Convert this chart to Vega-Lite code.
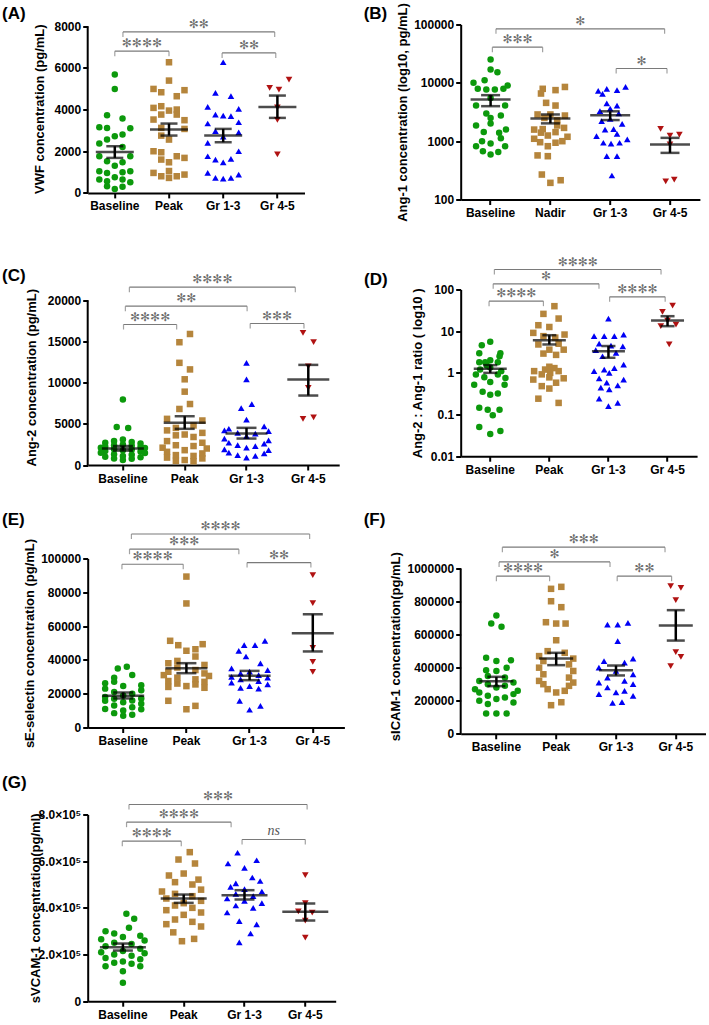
{
"$schema": "https://vega.github.io/schema/vega-lite/v6.json",
"padding": {"left": 1.7, "top": 2.5, "right": 0, "bottom": 0},
"config": {
 "view": {"stroke": null},
 "font": "Liberation Sans",
 "axis": {"domainColor": "black", "domainWidth": 2, "tickColor": "black", "tickWidth": 2, "tickSize": 5, "labelColor": "black", "labelFont": "Liberation Sans", "labelFontSize": 12, "labelFontWeight": "bold", "titleFont": "Liberation Sans", "titleFontSize": 13, "titleFontWeight": "bold", "titleColor": "black", "grid": false, "labelPadding": 2, "labelFlush": false, "labelOverlap": false},
 "axisX": {"labelAngle": 0, "labelPadding": 3},
 "title": {"anchor": "start", "frame": "group", "fontSize": 17, "fontWeight": "bold", "color": "black", "font": "Liberation Sans", "offset": 0}
},
"datasets": {
 "pts": [
{"p":"A","g":"Baseline","v":5680,"s":0},{"p":"A","g":"Baseline","v":4990,"s":0},{"p":"A","g":"Baseline","v":3730,"s":-1},{"p":"A","g":"Baseline","v":3570,"s":1},{"p":"A","g":"Baseline","v":3150,"s":-2},{"p":"A","g":"Baseline","v":3120,"s":-1},{"p":"A","g":"Baseline","v":3100,"s":2},{"p":"A","g":"Baseline","v":2800,"s":1},{"p":"A","g":"Baseline","v":2720,"s":0},{"p":"A","g":"Baseline","v":2560,"s":-1},{"p":"A","g":"Baseline","v":2370,"s":-2},{"p":"A","g":"Baseline","v":2200,"s":1},{"p":"A","g":"Baseline","v":1760,"s":-2},{"p":"A","g":"Baseline","v":1760,"s":2},{"p":"A","g":"Baseline","v":1520,"s":-1},{"p":"A","g":"Baseline","v":1470,"s":1},{"p":"A","g":"Baseline","v":1300,"s":0},{"p":"A","g":"Baseline","v":1040,"s":-2},{"p":"A","g":"Baseline","v":960,"s":-1},{"p":"A","g":"Baseline","v":990,"s":1},{"p":"A","g":"Baseline","v":1040,"s":2},{"p":"A","g":"Baseline","v":640,"s":-2},{"p":"A","g":"Baseline","v":560,"s":-1},{"p":"A","g":"Baseline","v":640,"s":1},{"p":"A","g":"Baseline","v":510,"s":2},{"p":"A","g":"Baseline","v":320,"s":-1},{"p":"A","g":"Baseline","v":190,"s":0},{"p":"A","g":"Baseline","v":300,"s":1},{"p":"A","g":"Baseline","v":750,"s":0},
{"p":"A","g":"Peak","v":6270,"s":0},{"p":"A","g":"Peak","v":5390,"s":0},{"p":"A","g":"Peak","v":4990,"s":-2},{"p":"A","g":"Peak","v":4830,"s":-1},{"p":"A","g":"Peak","v":4930,"s":2},{"p":"A","g":"Peak","v":4640,"s":1},{"p":"A","g":"Peak","v":4160,"s":-1},{"p":"A","g":"Peak","v":4080,"s":-2},{"p":"A","g":"Peak","v":4000,"s":1},{"p":"A","g":"Peak","v":3950,"s":0},{"p":"A","g":"Peak","v":3520,"s":-2},{"p":"A","g":"Peak","v":3490,"s":2},{"p":"A","g":"Peak","v":3760,"s":-1},{"p":"A","g":"Peak","v":3760,"s":1},{"p":"A","g":"Peak","v":3120,"s":-1},{"p":"A","g":"Peak","v":3070,"s":2},{"p":"A","g":"Peak","v":2560,"s":0},{"p":"A","g":"Peak","v":2750,"s":-1},{"p":"A","g":"Peak","v":2000,"s":-2},{"p":"A","g":"Peak","v":1950,"s":-1},{"p":"A","g":"Peak","v":1760,"s":1},{"p":"A","g":"Peak","v":1680,"s":2},{"p":"A","g":"Peak","v":1600,"s":-1},{"p":"A","g":"Peak","v":1470,"s":0},{"p":"A","g":"Peak","v":960,"s":-2},{"p":"A","g":"Peak","v":800,"s":-1},{"p":"A","g":"Peak","v":800,"s":1},{"p":"A","g":"Peak","v":880,"s":2},{"p":"A","g":"Peak","v":720,"s":0},{"p":"A","g":"Peak","v":1050,"s":0},
{"p":"A","g":"Gr 1-3","v":6270,"s":0},{"p":"A","g":"Gr 1-3","v":4800,"s":-1},{"p":"A","g":"Gr 1-3","v":4640,"s":1},{"p":"A","g":"Gr 1-3","v":4130,"s":-2},{"p":"A","g":"Gr 1-3","v":4030,"s":2},{"p":"A","g":"Gr 1-3","v":3760,"s":-1},{"p":"A","g":"Gr 1-3","v":3710,"s":0},{"p":"A","g":"Gr 1-3","v":3680,"s":1},{"p":"A","g":"Gr 1-3","v":3330,"s":-2},{"p":"A","g":"Gr 1-3","v":3390,"s":2},{"p":"A","g":"Gr 1-3","v":2960,"s":-1},{"p":"A","g":"Gr 1-3","v":2910,"s":2},{"p":"A","g":"Gr 1-3","v":2400,"s":-2},{"p":"A","g":"Gr 1-3","v":2000,"s":2},{"p":"A","g":"Gr 1-3","v":1760,"s":-2},{"p":"A","g":"Gr 1-3","v":1600,"s":-1},{"p":"A","g":"Gr 1-3","v":1630,"s":1},{"p":"A","g":"Gr 1-3","v":1470,"s":0},{"p":"A","g":"Gr 1-3","v":960,"s":-2},{"p":"A","g":"Gr 1-3","v":720,"s":-1},{"p":"A","g":"Gr 1-3","v":690,"s":0},{"p":"A","g":"Gr 1-3","v":720,"s":1},{"p":"A","g":"Gr 1-3","v":880,"s":2},{"p":"A","g":"Gr 1-3","v":2700,"s":0},
{"p":"A","g":"Gr 4-5","v":5440,"s":1.5},{"p":"A","g":"Gr 4-5","v":5040,"s":-1},{"p":"A","g":"Gr 4-5","v":4960,"s":0.2},{"p":"A","g":"Gr 4-5","v":4100,"s":0},{"p":"A","g":"Gr 4-5","v":3500,"s":0},{"p":"A","g":"Gr 4-5","v":1850,"s":0},
{"p":"B","g":"Baseline","v":25100,"s":0},{"p":"B","g":"Baseline","v":16900,"s":0},{"p":"B","g":"Baseline","v":15200,"s":0.8},{"p":"B","g":"Baseline","v":10000,"s":-2},{"p":"B","g":"Baseline","v":11100,"s":-0.7},{"p":"B","g":"Baseline","v":9000,"s":2},{"p":"B","g":"Baseline","v":7900,"s":-1.5},{"p":"B","g":"Baseline","v":7700,"s":-0.5},{"p":"B","g":"Baseline","v":7700,"s":0.5},{"p":"B","g":"Baseline","v":7900,"s":1.5},{"p":"B","g":"Baseline","v":4080,"s":-1.7},{"p":"B","g":"Baseline","v":4080,"s":1.7},{"p":"B","g":"Baseline","v":5500,"s":0},{"p":"B","g":"Baseline","v":2980,"s":-0.5},{"p":"B","g":"Baseline","v":2750,"s":1.2},{"p":"B","g":"Baseline","v":2500,"s":0},{"p":"B","g":"Baseline","v":1860,"s":-1.7},{"p":"B","g":"Baseline","v":2010,"s":0},{"p":"B","g":"Baseline","v":1580,"s":1.8},{"p":"B","g":"Baseline","v":1430,"s":-0.8},{"p":"B","g":"Baseline","v":1390,"s":1},{"p":"B","g":"Baseline","v":1125,"s":1.2},{"p":"B","g":"Baseline","v":1000,"s":-1},{"p":"B","g":"Baseline","v":820,"s":-1.7},{"p":"B","g":"Baseline","v":910,"s":0},{"p":"B","g":"Baseline","v":820,"s":1.7},{"p":"B","g":"Baseline","v":670,"s":-0.9},{"p":"B","g":"Baseline","v":590,"s":0},{"p":"B","g":"Baseline","v":650,"s":0.9},
{"p":"B","g":"Nadir","v":7900,"s":-0.9},{"p":"B","g":"Nadir","v":7500,"s":0.6},{"p":"B","g":"Nadir","v":8500,"s":1.7},{"p":"B","g":"Nadir","v":6560,"s":-1.1},{"p":"B","g":"Nadir","v":4540,"s":-0.5},{"p":"B","g":"Nadir","v":4080,"s":0.6},{"p":"B","g":"Nadir","v":2870,"s":-1.5},{"p":"B","g":"Nadir","v":2870,"s":0},{"p":"B","g":"Nadir","v":2750,"s":1.7},{"p":"B","g":"Nadir","v":2500,"s":-0.7},{"p":"B","g":"Nadir","v":2300,"s":0.8},{"p":"B","g":"Nadir","v":1580,"s":-1.9},{"p":"B","g":"Nadir","v":1610,"s":-0.9},{"p":"B","g":"Nadir","v":1860,"s":0.8},{"p":"B","g":"Nadir","v":1690,"s":1.6},{"p":"B","g":"Nadir","v":1250,"s":-0.3},{"p":"B","g":"Nadir","v":1100,"s":-1.9},{"p":"B","g":"Nadir","v":1430,"s":0.6},{"p":"B","g":"Nadir","v":1190,"s":2},{"p":"B","g":"Nadir","v":960,"s":-1.2},{"p":"B","g":"Nadir","v":820,"s":-0.3},{"p":"B","g":"Nadir","v":940,"s":0.6},{"p":"B","g":"Nadir","v":1000,"s":1.4},{"p":"B","g":"Nadir","v":570,"s":-1.5},{"p":"B","g":"Nadir","v":553,"s":-0.3},{"p":"B","g":"Nadir","v":268,"s":-1},{"p":"B","g":"Nadir","v":193,"s":0},{"p":"B","g":"Nadir","v":214,"s":1.2},{"p":"B","g":"Nadir","v":1400,"s":-1.1},
{"p":"B","g":"Gr 1-3","v":7300,"s":-1.4},{"p":"B","g":"Gr 1-3","v":7900,"s":-0.4},{"p":"B","g":"Gr 1-3","v":7500,"s":0.8},{"p":"B","g":"Gr 1-3","v":8530,"s":1.8},{"p":"B","g":"Gr 1-3","v":6480,"s":-0.9},{"p":"B","g":"Gr 1-3","v":4430,"s":-0.4},{"p":"B","g":"Gr 1-3","v":4080,"s":0.8},{"p":"B","g":"Gr 1-3","v":3270,"s":-1.2},{"p":"B","g":"Gr 1-3","v":2980,"s":1},{"p":"B","g":"Gr 1-3","v":2400,"s":0},{"p":"B","g":"Gr 1-3","v":2200,"s":-1},{"p":"B","g":"Gr 1-3","v":1980,"s":1.4},{"p":"B","g":"Gr 1-3","v":1610,"s":0.4},{"p":"B","g":"Gr 1-3","v":1580,"s":-0.6},{"p":"B","g":"Gr 1-3","v":1330,"s":0.8},{"p":"B","g":"Gr 1-3","v":1220,"s":-1.6},{"p":"B","g":"Gr 1-3","v":1075,"s":2},{"p":"B","g":"Gr 1-3","v":940,"s":-0.8},{"p":"B","g":"Gr 1-3","v":910,"s":0.1},{"p":"B","g":"Gr 1-3","v":940,"s":1.1},{"p":"B","g":"Gr 1-3","v":553,"s":-0.4},{"p":"B","g":"Gr 1-3","v":553,"s":0.8},{"p":"B","g":"Gr 1-3","v":258,"s":0.2},{"p":"B","g":"Gr 1-3","v":3600,"s":0},
{"p":"B","g":"Gr 4-5","v":1630,"s":-1.1},{"p":"B","g":"Gr 4-5","v":1250,"s":0},{"p":"B","g":"Gr 4-5","v":1300,"s":1.1},{"p":"B","g":"Gr 4-5","v":880,"s":0},{"p":"B","g":"Gr 4-5","v":204,"s":-0.5},{"p":"B","g":"Gr 4-5","v":220,"s":0.5},
{"p":"C","g":"Baseline","v":7950,"s":0},{"p":"C","g":"Baseline","v":4600,"s":-0.7},{"p":"C","g":"Baseline","v":4500,"s":0.6},{"p":"C","g":"Baseline","v":3100,"s":0},{"p":"C","g":"Baseline","v":2900,"s":-1},{"p":"C","g":"Baseline","v":2800,"s":1},{"p":"C","g":"Baseline","v":2700,"s":-2},{"p":"C","g":"Baseline","v":2600,"s":2},{"p":"C","g":"Baseline","v":2500,"s":0},{"p":"C","g":"Baseline","v":2400,"s":-1},{"p":"C","g":"Baseline","v":2350,"s":1},{"p":"C","g":"Baseline","v":2250,"s":-2},{"p":"C","g":"Baseline","v":2200,"s":2},{"p":"C","g":"Baseline","v":2100,"s":-2.5},{"p":"C","g":"Baseline","v":2050,"s":2.5},{"p":"C","g":"Baseline","v":1900,"s":-1},{"p":"C","g":"Baseline","v":1850,"s":1},{"p":"C","g":"Baseline","v":1800,"s":0},{"p":"C","g":"Baseline","v":1700,"s":-2},{"p":"C","g":"Baseline","v":1650,"s":2},{"p":"C","g":"Baseline","v":1500,"s":-2.5},{"p":"C","g":"Baseline","v":1450,"s":2.5},{"p":"C","g":"Baseline","v":1300,"s":-1},{"p":"C","g":"Baseline","v":1250,"s":1},{"p":"C","g":"Baseline","v":1100,"s":0},{"p":"C","g":"Baseline","v":1000,"s":-2},{"p":"C","g":"Baseline","v":950,"s":2},{"p":"C","g":"Baseline","v":800,"s":-1},{"p":"C","g":"Baseline","v":750,"s":1},{"p":"C","g":"Baseline","v":600,"s":0},
{"p":"C","g":"Peak","v":15900,"s":0.6},{"p":"C","g":"Peak","v":14900,"s":-0.6},{"p":"C","g":"Peak","v":12400,"s":-0.6},{"p":"C","g":"Peak","v":11600,"s":0.6},{"p":"C","g":"Peak","v":10400,"s":0},{"p":"C","g":"Peak","v":8900,"s":0},{"p":"C","g":"Peak","v":7400,"s":0.6},{"p":"C","g":"Peak","v":6800,"s":-0.6},{"p":"C","g":"Peak","v":5600,"s":-2},{"p":"C","g":"Peak","v":5400,"s":2},{"p":"C","g":"Peak","v":4800,"s":1},{"p":"C","g":"Peak","v":4500,"s":-1},{"p":"C","g":"Peak","v":4200,"s":-2},{"p":"C","g":"Peak","v":3900,"s":2},{"p":"C","g":"Peak","v":3700,"s":0},{"p":"C","g":"Peak","v":3600,"s":-1},{"p":"C","g":"Peak","v":3400,"s":1},{"p":"C","g":"Peak","v":2900,"s":-2},{"p":"C","g":"Peak","v":2700,"s":2},{"p":"C","g":"Peak","v":2400,"s":-1},{"p":"C","g":"Peak","v":2300,"s":1},{"p":"C","g":"Peak","v":2100,"s":-2.5},{"p":"C","g":"Peak","v":2000,"s":2.5},{"p":"C","g":"Peak","v":1800,"s":0},{"p":"C","g":"Peak","v":1600,"s":-2},{"p":"C","g":"Peak","v":1400,"s":2},{"p":"C","g":"Peak","v":1200,"s":-1},{"p":"C","g":"Peak","v":1100,"s":1},{"p":"C","g":"Peak","v":900,"s":-2},{"p":"C","g":"Peak","v":800,"s":2},{"p":"C","g":"Peak","v":600,"s":0},{"p":"C","g":"Peak","v":500,"s":-1},{"p":"C","g":"Peak","v":450,"s":1},
{"p":"C","g":"Gr 1-3","v":12400,"s":0},{"p":"C","g":"Gr 1-3","v":10400,"s":0},{"p":"C","g":"Gr 1-3","v":7400,"s":0.6},{"p":"C","g":"Gr 1-3","v":6900,"s":-0.6},{"p":"C","g":"Gr 1-3","v":5500,"s":0},{"p":"C","g":"Gr 1-3","v":4700,"s":2},{"p":"C","g":"Gr 1-3","v":4400,"s":-2},{"p":"C","g":"Gr 1-3","v":4200,"s":-2.5},{"p":"C","g":"Gr 1-3","v":4100,"s":2.5},{"p":"C","g":"Gr 1-3","v":3900,"s":-1},{"p":"C","g":"Gr 1-3","v":3800,"s":1},{"p":"C","g":"Gr 1-3","v":3500,"s":0},{"p":"C","g":"Gr 1-3","v":3200,"s":-2.5},{"p":"C","g":"Gr 1-3","v":3000,"s":2.5},{"p":"C","g":"Gr 1-3","v":2700,"s":-2},{"p":"C","g":"Gr 1-3","v":2600,"s":2},{"p":"C","g":"Gr 1-3","v":2400,"s":-1},{"p":"C","g":"Gr 1-3","v":2300,"s":1},{"p":"C","g":"Gr 1-3","v":2100,"s":0},{"p":"C","g":"Gr 1-3","v":1900,"s":-2.5},{"p":"C","g":"Gr 1-3","v":1800,"s":2.5},{"p":"C","g":"Gr 1-3","v":1500,"s":-2},{"p":"C","g":"Gr 1-3","v":1400,"s":2},{"p":"C","g":"Gr 1-3","v":1200,"s":-1},{"p":"C","g":"Gr 1-3","v":1100,"s":1},{"p":"C","g":"Gr 1-3","v":900,"s":0},
{"p":"C","g":"Gr 4-5","v":16040,"s":-0.6},{"p":"C","g":"Gr 4-5","v":14900,"s":0.6},{"p":"C","g":"Gr 4-5","v":11960,"s":0},{"p":"C","g":"Gr 4-5","v":9360,"s":0},{"p":"C","g":"Gr 4-5","v":5600,"s":-0.6},{"p":"C","g":"Gr 4-5","v":5780,"s":0.6},
{"p":"D","g":"Baseline","v":5.55,"s":0},{"p":"D","g":"Baseline","v":4.6,"s":-1},{"p":"D","g":"Baseline","v":2.97,"s":-1.3},{"p":"D","g":"Baseline","v":2.97,"s":1.2},{"p":"D","g":"Baseline","v":2.5,"s":1.1},{"p":"D","g":"Baseline","v":2.0,"s":0},{"p":"D","g":"Baseline","v":1.8,"s":-1.3},{"p":"D","g":"Baseline","v":1.8,"s":-0.6},{"p":"D","g":"Baseline","v":1.8,"s":0.9},{"p":"D","g":"Baseline","v":1.5,"s":-0.4},{"p":"D","g":"Baseline","v":1.2,"s":-1.2},{"p":"D","g":"Baseline","v":1.1,"s":1.3},{"p":"D","g":"Baseline","v":0.91,"s":-1.7},{"p":"D","g":"Baseline","v":0.78,"s":-0.7},{"p":"D","g":"Baseline","v":0.91,"s":0.9},{"p":"D","g":"Baseline","v":0.75,"s":1.8},{"p":"D","g":"Baseline","v":0.52,"s":-1.9},{"p":"D","g":"Baseline","v":0.52,"s":1.7},{"p":"D","g":"Baseline","v":0.6,"s":0},{"p":"D","g":"Baseline","v":0.3,"s":0},{"p":"D","g":"Baseline","v":0.35,"s":-0.9},{"p":"D","g":"Baseline","v":0.32,"s":0.9},{"p":"D","g":"Baseline","v":0.145,"s":-1.3},{"p":"D","g":"Baseline","v":0.13,"s":-0.3},{"p":"D","g":"Baseline","v":0.13,"s":1.1},{"p":"D","g":"Baseline","v":0.096,"s":0.3},{"p":"D","g":"Baseline","v":0.05,"s":-1.3},{"p":"D","g":"Baseline","v":0.034,"s":0},{"p":"D","g":"Baseline","v":0.04,"s":1.2},{"p":"D","g":"Baseline","v":1.35,"s":0},
{"p":"D","g":"Peak","v":39.8,"s":0.6},{"p":"D","g":"Peak","v":26,"s":-0.7},{"p":"D","g":"Peak","v":20.1,"s":1.1},{"p":"D","g":"Peak","v":13.9,"s":-1.3},{"p":"D","g":"Peak","v":12.6,"s":0},{"p":"D","g":"Peak","v":9.1,"s":-1.9},{"p":"D","g":"Peak","v":8.3,"s":1.8},{"p":"D","g":"Peak","v":7.6,"s":-0.7},{"p":"D","g":"Peak","v":7.0,"s":0.7},{"p":"D","g":"Peak","v":4.8,"s":-1.3},{"p":"D","g":"Peak","v":5.0,"s":1.1},{"p":"D","g":"Peak","v":3.6,"s":0},{"p":"D","g":"Peak","v":3.6,"s":1.7},{"p":"D","g":"Peak","v":2.9,"s":-0.7},{"p":"D","g":"Peak","v":2.7,"s":0.8},{"p":"D","g":"Peak","v":1.4,"s":0},{"p":"D","g":"Peak","v":1.1,"s":-1.8},{"p":"D","g":"Peak","v":1.2,"s":-0.5},{"p":"D","g":"Peak","v":1.3,"s":0.6},{"p":"D","g":"Peak","v":1.1,"s":1.1},{"p":"D","g":"Peak","v":0.92,"s":-0.9},{"p":"D","g":"Peak","v":1.0,"s":0.1},{"p":"D","g":"Peak","v":0.69,"s":-1.9},{"p":"D","g":"Peak","v":0.78,"s":0},{"p":"D","g":"Peak","v":0.74,"s":1.7},{"p":"D","g":"Peak","v":0.58,"s":0.8},{"p":"D","g":"Peak","v":0.48,"s":-0.9},{"p":"D","g":"Peak","v":0.42,"s":0},{"p":"D","g":"Peak","v":0.24,"s":-1.3},{"p":"D","g":"Peak","v":0.19,"s":1.1},
{"p":"D","g":"Gr 1-3","v":20.1,"s":0},{"p":"D","g":"Gr 1-3","v":7.6,"s":-1.7},{"p":"D","g":"Gr 1-3","v":7.6,"s":-0.5},{"p":"D","g":"Gr 1-3","v":7.6,"s":0.7},{"p":"D","g":"Gr 1-3","v":8.3,"s":1.8},{"p":"D","g":"Gr 1-3","v":5.0,"s":-1.1},{"p":"D","g":"Gr 1-3","v":4.3,"s":1.7},{"p":"D","g":"Gr 1-3","v":4.5,"s":0.3},{"p":"D","g":"Gr 1-3","v":3.5,"s":-1.5},{"p":"D","g":"Gr 1-3","v":3.0,"s":0.9},{"p":"D","g":"Gr 1-3","v":2.5,"s":-0.7},{"p":"D","g":"Gr 1-3","v":1.58,"s":1.8},{"p":"D","g":"Gr 1-3","v":1.3,"s":0.7},{"p":"D","g":"Gr 1-3","v":1.2,"s":-0.5},{"p":"D","g":"Gr 1-3","v":1.1,"s":-1.7},{"p":"D","g":"Gr 1-3","v":1.0,"s":0.1},{"p":"D","g":"Gr 1-3","v":0.74,"s":-1.1},{"p":"D","g":"Gr 1-3","v":0.69,"s":1.8},{"p":"D","g":"Gr 1-3","v":0.58,"s":-0.2},{"p":"D","g":"Gr 1-3","v":0.44,"s":-0.9},{"p":"D","g":"Gr 1-3","v":0.4,"s":0.1},{"p":"D","g":"Gr 1-3","v":0.5,"s":1.1},{"p":"D","g":"Gr 1-3","v":0.24,"s":-1.1},{"p":"D","g":"Gr 1-3","v":0.19,"s":1.1},{"p":"D","g":"Gr 1-3","v":0.16,"s":0},
{"p":"D","g":"Gr 4-5","v":41,"s":0.6},{"p":"D","g":"Gr 4-5","v":29,"s":-0.6},{"p":"D","g":"Gr 4-5","v":18,"s":0},{"p":"D","g":"Gr 4-5","v":14.4,"s":1},{"p":"D","g":"Gr 4-5","v":13.2,"s":-0.8},{"p":"D","g":"Gr 4-5","v":4.8,"s":0.2},
{"p":"E","g":"Baseline","v":35900,"s":0.4},{"p":"E","g":"Baseline","v":34900,"s":-0.6},{"p":"E","g":"Baseline","v":31000,"s":1},{"p":"E","g":"Baseline","v":29500,"s":-1},{"p":"E","g":"Baseline","v":27000,"s":-1},{"p":"E","g":"Baseline","v":26200,"s":-2},{"p":"E","g":"Baseline","v":25000,"s":2},{"p":"E","g":"Baseline","v":24500,"s":0},{"p":"E","g":"Baseline","v":23000,"s":-2},{"p":"E","g":"Baseline","v":22000,"s":2},{"p":"E","g":"Baseline","v":21000,"s":-1},{"p":"E","g":"Baseline","v":20000,"s":1},{"p":"E","g":"Baseline","v":19000,"s":0},{"p":"E","g":"Baseline","v":18000,"s":-2},{"p":"E","g":"Baseline","v":17200,"s":2},{"p":"E","g":"Baseline","v":17000,"s":-1},{"p":"E","g":"Baseline","v":16000,"s":1},{"p":"E","g":"Baseline","v":15800,"s":-2},{"p":"E","g":"Baseline","v":15000,"s":0},{"p":"E","g":"Baseline","v":14000,"s":2},{"p":"E","g":"Baseline","v":13000,"s":-1},{"p":"E","g":"Baseline","v":12000,"s":1},{"p":"E","g":"Baseline","v":11000,"s":-2},{"p":"E","g":"Baseline","v":10800,"s":2},{"p":"E","g":"Baseline","v":10000,"s":0},{"p":"E","g":"Baseline","v":8500,"s":-1},{"p":"E","g":"Baseline","v":7500,"s":1},{"p":"E","g":"Baseline","v":7000,"s":0},
{"p":"E","g":"Peak","v":89300,"s":0},{"p":"E","g":"Peak","v":73400,"s":0},{"p":"E","g":"Peak","v":51300,"s":-1.8},{"p":"E","g":"Peak","v":49300,"s":1.8},{"p":"E","g":"Peak","v":48700,"s":-0.9},{"p":"E","g":"Peak","v":46300,"s":1},{"p":"E","g":"Peak","v":45400,"s":0},{"p":"E","g":"Peak","v":42000,"s":1},{"p":"E","g":"Peak","v":39400,"s":-1},{"p":"E","g":"Peak","v":38000,"s":-2},{"p":"E","g":"Peak","v":37000,"s":2},{"p":"E","g":"Peak","v":35500,"s":-1},{"p":"E","g":"Peak","v":34000,"s":1},{"p":"E","g":"Peak","v":33000,"s":-2},{"p":"E","g":"Peak","v":32000,"s":2},{"p":"E","g":"Peak","v":31000,"s":-2.5},{"p":"E","g":"Peak","v":30500,"s":2.5},{"p":"E","g":"Peak","v":29500,"s":-1},{"p":"E","g":"Peak","v":28500,"s":1},{"p":"E","g":"Peak","v":27500,"s":-2},{"p":"E","g":"Peak","v":27000,"s":2},{"p":"E","g":"Peak","v":26000,"s":-1},{"p":"E","g":"Peak","v":25500,"s":1},{"p":"E","g":"Peak","v":24500,"s":0},{"p":"E","g":"Peak","v":24000,"s":-2},{"p":"E","g":"Peak","v":23500,"s":2},{"p":"E","g":"Peak","v":15800,"s":-2},{"p":"E","g":"Peak","v":12800,"s":1},{"p":"E","g":"Peak","v":10800,"s":0},
{"p":"E","g":"Gr 1-3","v":51300,"s":1.7},{"p":"E","g":"Gr 1-3","v":48700,"s":-0.6},{"p":"E","g":"Gr 1-3","v":48700,"s":0.6},{"p":"E","g":"Gr 1-3","v":45400,"s":-1.2},{"p":"E","g":"Gr 1-3","v":42000,"s":-0.4},{"p":"E","g":"Gr 1-3","v":38000,"s":1.2},{"p":"E","g":"Gr 1-3","v":35000,"s":-2},{"p":"E","g":"Gr 1-3","v":34000,"s":2},{"p":"E","g":"Gr 1-3","v":33000,"s":0},{"p":"E","g":"Gr 1-3","v":32000,"s":-1},{"p":"E","g":"Gr 1-3","v":31000,"s":1},{"p":"E","g":"Gr 1-3","v":30000,"s":-2},{"p":"E","g":"Gr 1-3","v":29500,"s":2},{"p":"E","g":"Gr 1-3","v":28500,"s":-1},{"p":"E","g":"Gr 1-3","v":27500,"s":1},{"p":"E","g":"Gr 1-3","v":26500,"s":-2},{"p":"E","g":"Gr 1-3","v":25500,"s":2},{"p":"E","g":"Gr 1-3","v":24500,"s":0},{"p":"E","g":"Gr 1-3","v":23500,"s":-1},{"p":"E","g":"Gr 1-3","v":23000,"s":1},{"p":"E","g":"Gr 1-3","v":15800,"s":-1.1},{"p":"E","g":"Gr 1-3","v":12800,"s":1.2},{"p":"E","g":"Gr 1-3","v":10500,"s":0},
{"p":"E","g":"Gr 4-5","v":90100,"s":0},{"p":"E","g":"Gr 4-5","v":73600,"s":0},{"p":"E","g":"Gr 4-5","v":47100,"s":0},{"p":"E","g":"Gr 4-5","v":38800,"s":0},{"p":"E","g":"Gr 4-5","v":32900,"s":0},
{"p":"F","g":"Baseline","v":715000,"s":0},{"p":"F","g":"Baseline","v":667000,"s":-0.6},{"p":"F","g":"Baseline","v":647000,"s":0.6},{"p":"F","g":"Baseline","v":460000,"s":-1.2},{"p":"F","g":"Baseline","v":440000,"s":0},{"p":"F","g":"Baseline","v":445000,"s":1.7},{"p":"F","g":"Baseline","v":385000,"s":-1.2},{"p":"F","g":"Baseline","v":380000,"s":0},{"p":"F","g":"Baseline","v":400000,"s":1.2},{"p":"F","g":"Baseline","v":350000,"s":-1},{"p":"F","g":"Baseline","v":340000,"s":1},{"p":"F","g":"Baseline","v":320000,"s":-2},{"p":"F","g":"Baseline","v":310000,"s":2},{"p":"F","g":"Baseline","v":300000,"s":-1},{"p":"F","g":"Baseline","v":290000,"s":1},{"p":"F","g":"Baseline","v":280000,"s":0},{"p":"F","g":"Baseline","v":270000,"s":-2.5},{"p":"F","g":"Baseline","v":260000,"s":2.5},{"p":"F","g":"Baseline","v":250000,"s":-2},{"p":"F","g":"Baseline","v":240000,"s":2},{"p":"F","g":"Baseline","v":230000,"s":-1},{"p":"F","g":"Baseline","v":220000,"s":1},{"p":"F","g":"Baseline","v":210000,"s":0},{"p":"F","g":"Baseline","v":200000,"s":-2},{"p":"F","g":"Baseline","v":190000,"s":2},{"p":"F","g":"Baseline","v":180000,"s":-1},{"p":"F","g":"Baseline","v":123000,"s":-1.2},{"p":"F","g":"Baseline","v":123000,"s":0},{"p":"F","g":"Baseline","v":123000,"s":1.2},
{"p":"F","g":"Peak","v":889000,"s":0.6},{"p":"F","g":"Peak","v":877000,"s":-0.6},{"p":"F","g":"Peak","v":802000,"s":-0.6},{"p":"F","g":"Peak","v":766000,"s":0.6},{"p":"F","g":"Peak","v":675000,"s":-1.2},{"p":"F","g":"Peak","v":667000,"s":0},{"p":"F","g":"Peak","v":667000,"s":1.1},{"p":"F","g":"Peak","v":566000,"s":0},{"p":"F","g":"Peak","v":500000,"s":-1},{"p":"F","g":"Peak","v":490000,"s":1},{"p":"F","g":"Peak","v":470000,"s":-2},{"p":"F","g":"Peak","v":455000,"s":2},{"p":"F","g":"Peak","v":440000,"s":-1.5},{"p":"F","g":"Peak","v":420000,"s":1.5},{"p":"F","g":"Peak","v":400000,"s":-2},{"p":"F","g":"Peak","v":380000,"s":2},{"p":"F","g":"Peak","v":360000,"s":-1.5},{"p":"F","g":"Peak","v":340000,"s":1.5},{"p":"F","g":"Peak","v":320000,"s":-2},{"p":"F","g":"Peak","v":310000,"s":2},{"p":"F","g":"Peak","v":300000,"s":-1.5},{"p":"F","g":"Peak","v":290000,"s":1.5},{"p":"F","g":"Peak","v":270000,"s":-1},{"p":"F","g":"Peak","v":260000,"s":1},{"p":"F","g":"Peak","v":250000,"s":0},{"p":"F","g":"Peak","v":173000,"s":-0.6},{"p":"F","g":"Peak","v":191000,"s":0.6},
{"p":"F","g":"Gr 1-3","v":671000,"s":1.4},{"p":"F","g":"Gr 1-3","v":661000,"s":-1},{"p":"F","g":"Gr 1-3","v":661000,"s":0.2},{"p":"F","g":"Gr 1-3","v":560000,"s":0.2},{"p":"F","g":"Gr 1-3","v":455000,"s":2},{"p":"F","g":"Gr 1-3","v":440000,"s":-1.4},{"p":"F","g":"Gr 1-3","v":430000,"s":1},{"p":"F","g":"Gr 1-3","v":400000,"s":-2},{"p":"F","g":"Gr 1-3","v":380000,"s":0},{"p":"F","g":"Gr 1-3","v":360000,"s":2},{"p":"F","g":"Gr 1-3","v":340000,"s":-1},{"p":"F","g":"Gr 1-3","v":320000,"s":1},{"p":"F","g":"Gr 1-3","v":310000,"s":-2},{"p":"F","g":"Gr 1-3","v":300000,"s":2},{"p":"F","g":"Gr 1-3","v":280000,"s":-1},{"p":"F","g":"Gr 1-3","v":260000,"s":1},{"p":"F","g":"Gr 1-3","v":250000,"s":0},{"p":"F","g":"Gr 1-3","v":240000,"s":-2},{"p":"F","g":"Gr 1-3","v":230000,"s":2},{"p":"F","g":"Gr 1-3","v":187000,"s":-0.4},{"p":"F","g":"Gr 1-3","v":191000,"s":0.7},
{"p":"F","g":"Gr 4-5","v":893000,"s":-0.6},{"p":"F","g":"Gr 4-5","v":883000,"s":0.6},{"p":"F","g":"Gr 4-5","v":808000,"s":0},{"p":"F","g":"Gr 4-5","v":494000,"s":0},{"p":"F","g":"Gr 4-5","v":466000,"s":0.6},{"p":"F","g":"Gr 4-5","v":409000,"s":-0.6},
{"p":"G","g":"Baseline","v":375000,"s":0.4},{"p":"G","g":"Baseline","v":353000,"s":1.3},{"p":"G","g":"Baseline","v":315000,"s":0.7},{"p":"G","g":"Baseline","v":300000,"s":-2},{"p":"G","g":"Baseline","v":290000,"s":-1},{"p":"G","g":"Baseline","v":280000,"s":2},{"p":"G","g":"Baseline","v":275000,"s":0},{"p":"G","g":"Baseline","v":265000,"s":-2.5},{"p":"G","g":"Baseline","v":260000,"s":2.5},{"p":"G","g":"Baseline","v":250000,"s":-1},{"p":"G","g":"Baseline","v":245000,"s":1},{"p":"G","g":"Baseline","v":235000,"s":-2},{"p":"G","g":"Baseline","v":225000,"s":2},{"p":"G","g":"Baseline","v":215000,"s":0},{"p":"G","g":"Baseline","v":210000,"s":-2.5},{"p":"G","g":"Baseline","v":205000,"s":2.5},{"p":"G","g":"Baseline","v":200000,"s":-1},{"p":"G","g":"Baseline","v":195000,"s":1},{"p":"G","g":"Baseline","v":185000,"s":-2},{"p":"G","g":"Baseline","v":180000,"s":2},{"p":"G","g":"Baseline","v":170000,"s":0},{"p":"G","g":"Baseline","v":165000,"s":-1},{"p":"G","g":"Baseline","v":160000,"s":1},{"p":"G","g":"Baseline","v":150000,"s":-2},{"p":"G","g":"Baseline","v":150000,"s":2},{"p":"G","g":"Baseline","v":128600,"s":0},{"p":"G","g":"Baseline","v":78600,"s":0},
{"p":"G","g":"Peak","v":638600,"s":0.7},{"p":"G","g":"Peak","v":607000,"s":-0.6},{"p":"G","g":"Peak","v":590000,"s":1.3},{"p":"G","g":"Peak","v":547000,"s":0},{"p":"G","g":"Peak","v":538600,"s":-1.7},{"p":"G","g":"Peak","v":521000,"s":1.7},{"p":"G","g":"Peak","v":510000,"s":-1},{"p":"G","g":"Peak","v":500000,"s":1},{"p":"G","g":"Peak","v":478000,"s":2},{"p":"G","g":"Peak","v":470000,"s":-2.5},{"p":"G","g":"Peak","v":460000,"s":-1},{"p":"G","g":"Peak","v":450000,"s":1},{"p":"G","g":"Peak","v":440000,"s":-2},{"p":"G","g":"Peak","v":430000,"s":2},{"p":"G","g":"Peak","v":420000,"s":0},{"p":"G","g":"Peak","v":410000,"s":-1},{"p":"G","g":"Peak","v":400000,"s":1},{"p":"G","g":"Peak","v":390000,"s":-2},{"p":"G","g":"Peak","v":380000,"s":2},{"p":"G","g":"Peak","v":370000,"s":0},{"p":"G","g":"Peak","v":350000,"s":-1},{"p":"G","g":"Peak","v":340000,"s":1},{"p":"G","g":"Peak","v":330000,"s":-2},{"p":"G","g":"Peak","v":320000,"s":2},{"p":"G","g":"Peak","v":295000,"s":-1.2},{"p":"G","g":"Peak","v":267000,"s":1.2},{"p":"G","g":"Peak","v":257000,"s":-0.2},
{"p":"G","g":"Gr 1-3","v":636000,"s":-0.8},{"p":"G","g":"Gr 1-3","v":604000,"s":1.4},{"p":"G","g":"Gr 1-3","v":590000,"s":-1.9},{"p":"G","g":"Gr 1-3","v":571000,"s":0},{"p":"G","g":"Gr 1-3","v":530000,"s":0.9},{"p":"G","g":"Gr 1-3","v":515000,"s":1.8},{"p":"G","g":"Gr 1-3","v":505000,"s":-1},{"p":"G","g":"Gr 1-3","v":490000,"s":-1.6},{"p":"G","g":"Gr 1-3","v":480000,"s":0},{"p":"G","g":"Gr 1-3","v":470000,"s":2},{"p":"G","g":"Gr 1-3","v":460000,"s":-1},{"p":"G","g":"Gr 1-3","v":450000,"s":1},{"p":"G","g":"Gr 1-3","v":440000,"s":-2},{"p":"G","g":"Gr 1-3","v":430000,"s":0},{"p":"G","g":"Gr 1-3","v":420000,"s":2},{"p":"G","g":"Gr 1-3","v":410000,"s":-1},{"p":"G","g":"Gr 1-3","v":400000,"s":1},{"p":"G","g":"Gr 1-3","v":380000,"s":-2},{"p":"G","g":"Gr 1-3","v":343000,"s":-0.6},{"p":"G","g":"Gr 1-3","v":329000,"s":1.4},{"p":"G","g":"Gr 1-3","v":290000,"s":0.7},{"p":"G","g":"Gr 1-3","v":252000,"s":-0.6},
{"p":"G","g":"Gr 4-5","v":540000,"s":0},{"p":"G","g":"Gr 4-5","v":420000,"s":0},{"p":"G","g":"Gr 4-5","v":385000,"s":-0.8},{"p":"G","g":"Gr 4-5","v":380000,"s":0.8},{"p":"G","g":"Gr 4-5","v":345000,"s":0},{"p":"G","g":"Gr 4-5","v":272000,"s":0}
 ],
 "stats": [
{"p":"A","g":"Baseline","m":1968,"lo":1680,"hi":2240},{"p":"A","g":"Peak","m":3040,"lo":2752,"hi":3328},{"p":"A","g":"Gr 1-3","m":2752,"lo":2432,"hi":3072},{"p":"A","g":"Gr 4-5","m":4128,"lo":3600,"hi":4672},
{"p":"B","g":"Baseline","m":5180,"lo":3980,"hi":6150},{"p":"B","g":"Nadir","m":2440,"lo":2020,"hi":2870},{"p":"B","g":"Gr 1-3","m":2790,"lo":2300,"hi":3250},{"p":"B","g":"Gr 4-5","m":877,"lo":630,"hi":1140},
{"p":"C","g":"Baseline","m":2000,"lo":1750,"hi":2300},{"p":"C","g":"Peak","m":5120,"lo":4390,"hi":5920},{"p":"C","g":"Gr 1-3","m":3820,"lo":3210,"hi":4510},{"p":"C","g":"Gr 4-5","m":10380,"lo":8430,"hi":12150},
{"p":"D","g":"Baseline","m":1.25,"lo":1.0,"hi":1.53},{"p":"D","g":"Peak","m":6.08,"lo":4.8,"hi":8.0},{"p":"D","g":"Gr 1-3","m":3.31,"lo":2.3,"hi":4.4},{"p":"D","g":"Gr 4-5","m":18,"lo":13.2,"hi":22.9},
{"p":"E","g":"Baseline","m":18730,"lo":17200,"hi":20700},{"p":"E","g":"Peak","m":35100,"lo":32140,"hi":38060},{"p":"E","g":"Gr 1-3","m":30570,"lo":28000,"hi":33500},{"p":"E","g":"Gr 4-5","m":55800,"lo":45000,"hi":67000},
{"p":"F","g":"Baseline","m":318500,"lo":288300,"hi":344700},{"p":"F","g":"Peak","m":455600,"lo":415300,"hi":489900},{"p":"F","g":"Gr 1-3","m":385000,"lo":353000,"hi":413000},{"p":"F","g":"Gr 4-5","m":655000,"lo":564000,"hi":748000},
{"p":"G","g":"Baseline","m":231400,"lo":217000,"hi":247000},{"p":"G","g":"Peak","m":440000,"lo":421400,"hi":457000},{"p":"G","g":"Gr 1-3","m":454000,"lo":435700,"hi":475700},{"p":"G","g":"Gr 4-5","m":382900,"lo":345700,"hi":418600}
 ],
 "br": [
{"p":"A","id":1,"a":1.0,"b":2.0,"h":6800,"lab":"✻✻✻✻"},{"p":"A","id":2,"a":1.15,"b":3.95,"h":7728,"lab":"✻✻"},{"p":"A","id":3,"a":2.98,"b":3.97,"h":6720,"lab":"✻✻"},
{"p":"B","id":1,"a":1.03,"b":1.87,"h":40850,"lab":"✻✻✻"},{"p":"B","id":2,"a":1.09,"b":3.91,"h":84300,"lab":"✻"},{"p":"B","id":3,"a":3.1,"b":3.95,"h":17600,"lab":"✻"},
{"p":"C","id":1,"a":1.01,"b":1.87,"h":17050,"lab":"✻✻✻✻"},{"p":"C","id":2,"a":1.04,"b":3.01,"h":19270,"lab":"✻✻"},{"p":"C","id":3,"a":1.105,"b":3.79,"h":21580,"lab":"✻✻✻✻"},{"p":"C","id":4,"a":3.06,"b":3.93,"h":17170,"lab":"✻✻✻"},
{"p":"D","id":1,"a":0.98,"b":1.9,"h":52.5,"lab":"✻✻✻✻"},{"p":"D","id":2,"a":1.05,"b":2.84,"h":136.8,"lab":"✻"},{"p":"D","id":3,"a":1.07,"b":3.89,"h":302,"lab":"✻✻✻✻"},{"p":"D","id":4,"a":3.02,"b":3.96,"h":66.7,"lab":"✻✻✻✻"},
{"p":"E","id":1,"a":0.98,"b":1.95,"h":96600,"lab":"✻✻✻✻"},{"p":"E","id":2,"a":1.1,"b":2.83,"h":105500,"lab":"✻✻✻"},{"p":"E","id":3,"a":1.13,"b":3.95,"h":114500,"lab":"✻✻✻✻"},{"p":"E","id":4,"a":2.96,"b":3.97,"h":97600,"lab":"✻✻"},
{"p":"F","id":1,"a":1.0,"b":1.89,"h":953600,"lab":"✻✻✻✻"},{"p":"F","id":2,"a":1.045,"b":2.9,"h":1040000,"lab":"✻"},{"p":"F","id":3,"a":1.1,"b":3.82,"h":1129000,"lab":"✻✻✻"},{"p":"F","id":4,"a":3.02,"b":3.93,"h":953600,"lab":"✻✻"},
{"p":"G","id":1,"a":0.99,"b":1.96,"h":685700,"lab":"✻✻✻✻"},{"p":"G","id":2,"a":1.06,"b":2.78,"h":767100,"lab":"✻✻✻✻"},{"p":"G","id":3,"a":1.1,"b":4.03,"h":842900,"lab":"✻✻✻"},{"p":"G","id":4,"a":2.96,"b":4.0,"h":692900,"lab":"ns"}
 ]
},
"columns": 2,
"bounds": "flush",
"align": "each",
"spacing": {"row": 0, "column": 116},
"resolve": {"scale": {"xOffset": "independent"}},
"concat": [
{"width": 216.8, "height": 168.4, "title": {"text": "(A)", "dx": -85.6, "dy": 9.4},
 "layer": [
  {"layer": [
   {"data": {"name": "pts"}, "transform": [{"filter": "datum.p == 'A'"}], "mark": {"type": "point", "filled": true, "opacity": 1, "strokeWidth": 0},
    "encoding": {
     "x": {"field": "g", "type": "nominal", "title": null, "scale": {"domain": ["Baseline","Peak","Gr 1-3","Gr 4-5"], "paddingInner": 0, "paddingOuter": 0, "align": 1}},
     "xOffset": {"field": "s", "type": "quantitative", "scale": {"domain": [-3.5, 3.5]}},
     "y": {"field": "v", "type": "quantitative", "scale": {"domain": [0, 8081.6], "nice": false}, "axis": {"values": [0,2000,4000,6000,8000], "tickCount": 10, "format": "d", "domain": false, "labelOverlap": false, "title": "VWF concentration (pg/mL)", "titlePadding": 7.3}},
     "color": {"field": "g", "type": "nominal", "legend": null, "scale": {"domain": ["Baseline","Peak","Nadir","Gr 1-3","Gr 4-5"], "range": ["#0c990c","#b5853c","#b5853c","#0000f5","#b01212"]}},
     "shape": {"field": "g", "type": "nominal", "legend": null, "scale": {"domain": ["Baseline","Peak","Nadir","Gr 1-3","Gr 4-5"], "range": ["circle","square","square","triangle-up","triangle-down"]}},
     "size": {"field": "g", "type": "nominal", "legend": null, "scale": {"domain": ["Baseline","Peak","Nadir","Gr 1-3","Gr 4-5"], "range": [42,44,44,58,58]}}
    }},
   {"data": {"name": "stats"}, "transform": [{"filter": "datum.p == 'A'"}], "mark": {"type": "tick", "color": "black", "thickness": 2.5, "size": 38},
    "encoding": {"x": {"field": "g", "type": "nominal", "title": null, "scale": {"domain": ["Baseline","Peak","Gr 1-3","Gr 4-5"]}}, "y": {"field": "m", "type": "quantitative"}}},
   {"data": {"name": "stats"}, "transform": [{"filter": "datum.p == 'A'"}], "mark": {"type": "rule", "color": "black", "strokeWidth": 2.5},
    "encoding": {"x": {"field": "g", "type": "nominal", "title": null, "scale": {"domain": ["Baseline","Peak","Gr 1-3","Gr 4-5"]}}, "y": {"field": "lo", "type": "quantitative"}, "y2": {"field": "hi"}}},
   {"data": {"name": "stats"}, "transform": [{"filter": "datum.p == 'A'"}, {"fold": ["lo","hi"], "as": ["k","cv"]}], "mark": {"type": "tick", "color": "black", "thickness": 2.5, "size": 17},
    "encoding": {"x": {"field": "g", "type": "nominal", "title": null, "scale": {"domain": ["Baseline","Peak","Gr 1-3","Gr 4-5"]}}, "y": {"field": "cv", "type": "quantitative"}}}
  ]},
  {"layer": [
   {"data": {"name": "stats"}, "transform": [{"filter": "datum.p == 'A' && datum.g == 'Baseline'"}], "mark": {"type": "rule", "color": "black", "strokeWidth": 2},
    "encoding": {"x": {"datum": 0.5, "type": "quantitative", "axis": null, "scale": {"domain": [0.5, 4.5], "nice": false, "zero": false}}, "y": {"datum": 0, "type": "quantitative"}, "y2": {"datum": 8000}}},
   {"data": {"name": "br"}, "transform": [{"filter": "datum.p == 'A'"}], "mark": {"type": "rule", "color": "#7a7a7a", "strokeWidth": 1.2},
    "encoding": {"x": {"field": "a", "type": "quantitative", "axis": null, "scale": {"domain": [0.5, 4.5], "nice": false, "zero": false}}, "x2": {"field": "b"}, "y": {"field": "h", "type": "quantitative"}}},
   {"data": {"name": "br"}, "transform": [{"filter": "datum.p == 'A'"}, {"fold": ["a","b"], "as": ["k","px"]}], "mark": {"type": "tick", "orient": "vertical", "color": "#7a7a7a", "thickness": 1.2, "size": 5, "yOffset": 2.5},
    "encoding": {"x": {"field": "px", "type": "quantitative", "axis": null, "scale": {"domain": [0.5, 4.5], "nice": false, "zero": false}}, "y": {"field": "h", "type": "quantitative"}}},
   {"data": {"name": "br"}, "transform": [{"filter": "datum.p == 'A' && datum.lab != 'ns'"}, {"fold": ["a","b"], "as": ["k","px"]}, {"aggregate": [{"op": "mean", "field": "px", "as": "mid"}], "groupby": ["id","h","lab"]}], "mark": {"type": "text", "font": "DejaVu Sans", "fontSize": 12, "color": "#6e6e6e", "baseline": "middle", "dy": -8},
    "encoding": {"x": {"field": "mid", "type": "quantitative", "axis": null, "scale": {"domain": [0.5, 4.5], "nice": false, "zero": false}}, "y": {"field": "h", "type": "quantitative"}, "text": {"field": "lab"}}}
  ]}
 ],
 "resolve": {"scale": {"x": "independent"}}},
{"width": 239.2, "height": 175, "title": {"text": "(B)", "dx": -97, "dy": 24.5},
 "layer": [
  {"layer": [
   {"data": {"name": "pts"}, "transform": [{"filter": "datum.p == 'B'"}], "mark": {"type": "point", "filled": true, "opacity": 1, "strokeWidth": 0},
    "encoding": {
     "x": {"field": "g", "type": "nominal", "title": null, "scale": {"domain": ["Baseline","Nadir","Gr 1-3","Gr 4-5"], "paddingInner": 0, "paddingOuter": 0, "align": 1}},
     "xOffset": {"field": "s", "type": "quantitative", "scale": {"domain": [-3.5, 3.5]}},
     "y": {"field": "v", "type": "quantitative", "scale": {"type": "log", "domain": [100, 100000], "nice": false}, "axis": {"values": [100,1000,10000,100000], "tickCount": 10, "format": "d", "labelOverlap": false, "title": "Ang-1 concentration (log10, pg/mL)", "titlePadding": 3.7}},
     "color": {"field": "g", "type": "nominal", "legend": null, "scale": {"domain": ["Baseline","Peak","Nadir","Gr 1-3","Gr 4-5"], "range": ["#0c990c","#b5853c","#b5853c","#0000f5","#b01212"]}},
     "shape": {"field": "g", "type": "nominal", "legend": null, "scale": {"domain": ["Baseline","Peak","Nadir","Gr 1-3","Gr 4-5"], "range": ["circle","square","square","triangle-up","triangle-down"]}},
     "size": {"field": "g", "type": "nominal", "legend": null, "scale": {"domain": ["Baseline","Peak","Nadir","Gr 1-3","Gr 4-5"], "range": [42,44,44,58,58]}}
    }},
   {"data": {"name": "stats"}, "transform": [{"filter": "datum.p == 'B'"}], "mark": {"type": "tick", "color": "black", "thickness": 2.5, "size": 40},
    "encoding": {"x": {"field": "g", "type": "nominal", "title": null, "scale": {"domain": ["Baseline","Nadir","Gr 1-3","Gr 4-5"]}}, "y": {"field": "m", "type": "quantitative"}}},
   {"data": {"name": "stats"}, "transform": [{"filter": "datum.p == 'B'"}], "mark": {"type": "rule", "color": "black", "strokeWidth": 2.5},
    "encoding": {"x": {"field": "g", "type": "nominal", "title": null, "scale": {"domain": ["Baseline","Nadir","Gr 1-3","Gr 4-5"]}}, "y": {"field": "lo", "type": "quantitative"}, "y2": {"field": "hi"}}},
   {"data": {"name": "stats"}, "transform": [{"filter": "datum.p == 'B'"}, {"fold": ["lo","hi"], "as": ["k","cv"]}], "mark": {"type": "tick", "color": "black", "thickness": 2.5, "size": 19},
    "encoding": {"x": {"field": "g", "type": "nominal", "title": null, "scale": {"domain": ["Baseline","Nadir","Gr 1-3","Gr 4-5"]}}, "y": {"field": "cv", "type": "quantitative"}}}
  ]},
  {"layer": [
   {"data": {"name": "br"}, "transform": [{"filter": "datum.p == 'B'"}], "mark": {"type": "rule", "color": "#7a7a7a", "strokeWidth": 1.2},
    "encoding": {"x": {"field": "a", "type": "quantitative", "axis": null, "scale": {"domain": [0.5, 4.5], "nice": false, "zero": false}}, "x2": {"field": "b"}, "y": {"field": "h", "type": "quantitative"}}},
   {"data": {"name": "br"}, "transform": [{"filter": "datum.p == 'B'"}, {"fold": ["a","b"], "as": ["k","px"]}], "mark": {"type": "tick", "orient": "vertical", "color": "#7a7a7a", "thickness": 1.2, "size": 5, "yOffset": 2.5},
    "encoding": {"x": {"field": "px", "type": "quantitative", "axis": null, "scale": {"domain": [0.5, 4.5], "nice": false, "zero": false}}, "y": {"field": "h", "type": "quantitative"}}},
   {"data": {"name": "br"}, "transform": [{"filter": "datum.p == 'B' && datum.lab != 'ns'"}, {"fold": ["a","b"], "as": ["k","px"]}, {"aggregate": [{"op": "mean", "field": "px", "as": "mid"}], "groupby": ["id","h","lab"]}], "mark": {"type": "text", "font": "DejaVu Sans", "fontSize": 12, "color": "#6e6e6e", "baseline": "middle", "dy": -8},
    "encoding": {"x": {"field": "mid", "type": "quantitative", "axis": null, "scale": {"domain": [0.5, 4.5], "nice": false, "zero": false}}, "y": {"field": "h", "type": "quantitative"}, "text": {"field": "lab"}}}
  ]}
 ],
 "resolve": {"scale": {"x": "independent"}}},
{"width": 10, "height": 90, "data": {"values": []}, "mark": {"type": "point", "opacity": 0}, "encoding": {}},
{"width": 10, "height": 90, "data": {"values": []}, "mark": {"type": "point", "opacity": 0}, "encoding": {}},
{"width": 251.5, "height": 175.5, "title": {"text": "(C)", "dx": -85.6, "dy": 16},
 "layer": [
  {"layer": [
   {"data": {"name": "pts"}, "transform": [{"filter": "datum.p == 'C'"}], "mark": {"type": "point", "filled": true, "opacity": 1, "strokeWidth": 0},
    "encoding": {
     "x": {"field": "g", "type": "nominal", "title": null, "scale": {"domain": ["Baseline","Peak","Gr 1-3","Gr 4-5"], "paddingInner": 0, "paddingOuter": 0.0348, "align": 1}},
     "xOffset": {"field": "s", "type": "quantitative", "scale": {"domain": [-3.5, 3.5]}},
     "y": {"field": "v", "type": "quantitative", "scale": {"domain": [0, 21298.5], "nice": false}, "axis": {"values": [0,5000,10000,15000,20000], "tickCount": 10, "format": "d", "domain": false, "labelOverlap": false, "title": "Ang-2 concentration (pg/mL)", "titlePadding": 8.7}},
     "color": {"field": "g", "type": "nominal", "legend": null, "scale": {"domain": ["Baseline","Peak","Nadir","Gr 1-3","Gr 4-5"], "range": ["#0c990c","#b5853c","#b5853c","#0000f5","#b01212"]}},
     "shape": {"field": "g", "type": "nominal", "legend": null, "scale": {"domain": ["Baseline","Peak","Nadir","Gr 1-3","Gr 4-5"], "range": ["circle","square","square","triangle-up","triangle-down"]}},
     "size": {"field": "g", "type": "nominal", "legend": null, "scale": {"domain": ["Baseline","Peak","Nadir","Gr 1-3","Gr 4-5"], "range": [42,44,44,58,58]}}
    }},
   {"data": {"name": "stats"}, "transform": [{"filter": "datum.p == 'C'"}], "mark": {"type": "tick", "color": "black", "thickness": 2.5, "size": 42},
    "encoding": {"x": {"field": "g", "type": "nominal", "title": null, "scale": {"domain": ["Baseline","Peak","Gr 1-3","Gr 4-5"]}}, "y": {"field": "m", "type": "quantitative"}}},
   {"data": {"name": "stats"}, "transform": [{"filter": "datum.p == 'C'"}], "mark": {"type": "rule", "color": "black", "strokeWidth": 2.5},
    "encoding": {"x": {"field": "g", "type": "nominal", "title": null, "scale": {"domain": ["Baseline","Peak","Gr 1-3","Gr 4-5"]}}, "y": {"field": "lo", "type": "quantitative"}, "y2": {"field": "hi"}}},
   {"data": {"name": "stats"}, "transform": [{"filter": "datum.p == 'C'"}, {"fold": ["lo","hi"], "as": ["k","cv"]}], "mark": {"type": "tick", "color": "black", "thickness": 2.5, "size": 20},
    "encoding": {"x": {"field": "g", "type": "nominal", "title": null, "scale": {"domain": ["Baseline","Peak","Gr 1-3","Gr 4-5"]}}, "y": {"field": "cv", "type": "quantitative"}}}
  ]},
  {"layer": [
   {"data": {"name": "stats"}, "transform": [{"filter": "datum.p == 'C' && datum.g == 'Baseline'"}], "mark": {"type": "rule", "color": "black", "strokeWidth": 2},
    "encoding": {"x": {"datum": 0.4304, "type": "quantitative", "axis": null, "scale": {"domain": [0.4304, 4.5], "nice": false, "zero": false}}, "y": {"datum": 0, "type": "quantitative"}, "y2": {"datum": 20000}}},
   {"data": {"name": "br"}, "transform": [{"filter": "datum.p == 'C'"}], "mark": {"type": "rule", "color": "#7a7a7a", "strokeWidth": 1.2},
    "encoding": {"x": {"field": "a", "type": "quantitative", "axis": null, "scale": {"domain": [0.4304, 4.5], "nice": false, "zero": false}}, "x2": {"field": "b"}, "y": {"field": "h", "type": "quantitative"}}},
   {"data": {"name": "br"}, "transform": [{"filter": "datum.p == 'C'"}, {"fold": ["a","b"], "as": ["k","px"]}], "mark": {"type": "tick", "orient": "vertical", "color": "#7a7a7a", "thickness": 1.2, "size": 5, "yOffset": 2.5},
    "encoding": {"x": {"field": "px", "type": "quantitative", "axis": null, "scale": {"domain": [0.4304, 4.5], "nice": false, "zero": false}}, "y": {"field": "h", "type": "quantitative"}}},
   {"data": {"name": "br"}, "transform": [{"filter": "datum.p == 'C' && datum.lab != 'ns'"}, {"fold": ["a","b"], "as": ["k","px"]}, {"aggregate": [{"op": "mean", "field": "px", "as": "mid"}], "groupby": ["id","h","lab"]}], "mark": {"type": "text", "font": "DejaVu Sans", "fontSize": 12, "color": "#6e6e6e", "baseline": "middle", "dy": -8},
    "encoding": {"x": {"field": "mid", "type": "quantitative", "axis": null, "scale": {"domain": [0.4304, 4.5], "nice": false, "zero": false}}, "y": {"field": "h", "type": "quantitative"}, "text": {"field": "lab"}}}
  ]}
 ],
 "resolve": {"scale": {"x": "independent"}}},
{"width": 236.4, "height": 166.7, "title": {"text": "(D)", "dx": -96.7, "dy": 38},
 "layer": [
  {"layer": [
   {"data": {"name": "pts"}, "transform": [{"filter": "datum.p == 'D'"}], "mark": {"type": "point", "filled": true, "opacity": 1, "strokeWidth": 0},
    "encoding": {
     "x": {"field": "g", "type": "nominal", "title": null, "scale": {"domain": ["Baseline","Peak","Gr 1-3","Gr 4-5"], "paddingInner": 0, "paddingOuter": 0, "align": 1}},
     "xOffset": {"field": "s", "type": "quantitative", "scale": {"domain": [-3.5, 3.5]}},
     "y": {"field": "v", "type": "quantitative", "scale": {"type": "log", "domain": [0.01, 100], "nice": false}, "axis": {"values": [0.01,0.1,1,10,100], "tickCount": 10, "format": "~g", "labelOverlap": false, "title": "Ang-2 : Ang-1 ratio ( log10 )", "titlePadding": 6}},
     "color": {"field": "g", "type": "nominal", "legend": null, "scale": {"domain": ["Baseline","Peak","Nadir","Gr 1-3","Gr 4-5"], "range": ["#0c990c","#b5853c","#b5853c","#0000f5","#b01212"]}},
     "shape": {"field": "g", "type": "nominal", "legend": null, "scale": {"domain": ["Baseline","Peak","Nadir","Gr 1-3","Gr 4-5"], "range": ["circle","square","square","triangle-up","triangle-down"]}},
     "size": {"field": "g", "type": "nominal", "legend": null, "scale": {"domain": ["Baseline","Peak","Nadir","Gr 1-3","Gr 4-5"], "range": [42,44,44,58,58]}}
    }},
   {"data": {"name": "stats"}, "transform": [{"filter": "datum.p == 'D'"}], "mark": {"type": "tick", "color": "black", "thickness": 2.5, "size": 33},
    "encoding": {"x": {"field": "g", "type": "nominal", "title": null, "scale": {"domain": ["Baseline","Peak","Gr 1-3","Gr 4-5"]}}, "y": {"field": "m", "type": "quantitative"}}},
   {"data": {"name": "stats"}, "transform": [{"filter": "datum.p == 'D'"}], "mark": {"type": "rule", "color": "black", "strokeWidth": 2.5},
    "encoding": {"x": {"field": "g", "type": "nominal", "title": null, "scale": {"domain": ["Baseline","Peak","Gr 1-3","Gr 4-5"]}}, "y": {"field": "lo", "type": "quantitative"}, "y2": {"field": "hi"}}},
   {"data": {"name": "stats"}, "transform": [{"filter": "datum.p == 'D'"}, {"fold": ["lo","hi"], "as": ["k","cv"]}], "mark": {"type": "tick", "color": "black", "thickness": 2.5, "size": 14},
    "encoding": {"x": {"field": "g", "type": "nominal", "title": null, "scale": {"domain": ["Baseline","Peak","Gr 1-3","Gr 4-5"]}}, "y": {"field": "cv", "type": "quantitative"}}}
  ]},
  {"layer": [
   {"data": {"name": "br"}, "transform": [{"filter": "datum.p == 'D'"}], "mark": {"type": "rule", "color": "#7a7a7a", "strokeWidth": 1.2},
    "encoding": {"x": {"field": "a", "type": "quantitative", "axis": null, "scale": {"domain": [0.5, 4.5], "nice": false, "zero": false}}, "x2": {"field": "b"}, "y": {"field": "h", "type": "quantitative"}}},
   {"data": {"name": "br"}, "transform": [{"filter": "datum.p == 'D'"}, {"fold": ["a","b"], "as": ["k","px"]}], "mark": {"type": "tick", "orient": "vertical", "color": "#7a7a7a", "thickness": 1.2, "size": 5, "yOffset": 2.5},
    "encoding": {"x": {"field": "px", "type": "quantitative", "axis": null, "scale": {"domain": [0.5, 4.5], "nice": false, "zero": false}}, "y": {"field": "h", "type": "quantitative"}}},
   {"data": {"name": "br"}, "transform": [{"filter": "datum.p == 'D' && datum.lab != 'ns'"}, {"fold": ["a","b"], "as": ["k","px"]}, {"aggregate": [{"op": "mean", "field": "px", "as": "mid"}], "groupby": ["id","h","lab"]}], "mark": {"type": "text", "font": "DejaVu Sans", "fontSize": 12, "color": "#6e6e6e", "baseline": "middle", "dy": -8},
    "encoding": {"x": {"field": "mid", "type": "quantitative", "axis": null, "scale": {"domain": [0.5, 4.5], "nice": false, "zero": false}}, "y": {"field": "h", "type": "quantitative"}, "text": {"field": "lab"}}}
  ]}
 ],
 "resolve": {"scale": {"x": "independent"}}},
{"width": 10, "height": 93, "data": {"values": []}, "mark": {"type": "point", "opacity": 0}, "encoding": {}},
{"width": 10, "height": 93, "data": {"values": []}, "mark": {"type": "point", "opacity": 0}, "encoding": {}},
{"width": 256.7, "height": 169, "title": {"text": "(E)", "dx": -85.6, "dy": 13.5},
 "layer": [
  {"layer": [
   {"data": {"name": "pts"}, "transform": [{"filter": "datum.p == 'E'"}], "mark": {"type": "point", "filled": true, "opacity": 1, "strokeWidth": 0},
    "encoding": {
     "x": {"field": "g", "type": "nominal", "title": null, "scale": {"domain": ["Baseline","Peak","Gr 1-3","Gr 4-5"], "paddingInner": 0, "paddingOuter": 0.0309, "align": 1}},
     "xOffset": {"field": "s", "type": "quantitative", "scale": {"domain": [-3.5, 3.5]}},
     "y": {"field": "v", "type": "quantitative", "scale": {"domain": [0, 100000], "nice": false}, "axis": {"values": [0,20000,40000,60000,80000,100000], "tickCount": 10, "format": "d", "labelOverlap": false, "title": "sE-selectin concentration (pg/mL)", "titlePadding": 4}},
     "color": {"field": "g", "type": "nominal", "legend": null, "scale": {"domain": ["Baseline","Peak","Nadir","Gr 1-3","Gr 4-5"], "range": ["#0c990c","#b5853c","#b5853c","#0000f5","#b01212"]}},
     "shape": {"field": "g", "type": "nominal", "legend": null, "scale": {"domain": ["Baseline","Peak","Nadir","Gr 1-3","Gr 4-5"], "range": ["circle","square","square","triangle-up","triangle-down"]}},
     "size": {"field": "g", "type": "nominal", "legend": null, "scale": {"domain": ["Baseline","Peak","Nadir","Gr 1-3","Gr 4-5"], "range": [42,44,44,58,58]}}
    }},
   {"data": {"name": "stats"}, "transform": [{"filter": "datum.p == 'E'"}], "mark": {"type": "tick", "color": "black", "thickness": 2.5, "size": 42},
    "encoding": {"x": {"field": "g", "type": "nominal", "title": null, "scale": {"domain": ["Baseline","Peak","Gr 1-3","Gr 4-5"]}}, "y": {"field": "m", "type": "quantitative"}}},
   {"data": {"name": "stats"}, "transform": [{"filter": "datum.p == 'E'"}], "mark": {"type": "rule", "color": "black", "strokeWidth": 2.5},
    "encoding": {"x": {"field": "g", "type": "nominal", "title": null, "scale": {"domain": ["Baseline","Peak","Gr 1-3","Gr 4-5"]}}, "y": {"field": "lo", "type": "quantitative"}, "y2": {"field": "hi"}}},
   {"data": {"name": "stats"}, "transform": [{"filter": "datum.p == 'E'"}, {"fold": ["lo","hi"], "as": ["k","cv"]}], "mark": {"type": "tick", "color": "black", "thickness": 2.5, "size": 20},
    "encoding": {"x": {"field": "g", "type": "nominal", "title": null, "scale": {"domain": ["Baseline","Peak","Gr 1-3","Gr 4-5"]}}, "y": {"field": "cv", "type": "quantitative"}}}
  ]},
  {"layer": [
   {"data": {"name": "br"}, "transform": [{"filter": "datum.p == 'E'"}], "mark": {"type": "rule", "color": "#7a7a7a", "strokeWidth": 1.2},
    "encoding": {"x": {"field": "a", "type": "quantitative", "axis": null, "scale": {"domain": [0.4383, 4.5], "nice": false, "zero": false}}, "x2": {"field": "b"}, "y": {"field": "h", "type": "quantitative"}}},
   {"data": {"name": "br"}, "transform": [{"filter": "datum.p == 'E'"}, {"fold": ["a","b"], "as": ["k","px"]}], "mark": {"type": "tick", "orient": "vertical", "color": "#7a7a7a", "thickness": 1.2, "size": 5, "yOffset": 2.5},
    "encoding": {"x": {"field": "px", "type": "quantitative", "axis": null, "scale": {"domain": [0.4383, 4.5], "nice": false, "zero": false}}, "y": {"field": "h", "type": "quantitative"}}},
   {"data": {"name": "br"}, "transform": [{"filter": "datum.p == 'E' && datum.lab != 'ns'"}, {"fold": ["a","b"], "as": ["k","px"]}, {"aggregate": [{"op": "mean", "field": "px", "as": "mid"}], "groupby": ["id","h","lab"]}], "mark": {"type": "text", "font": "DejaVu Sans", "fontSize": 12, "color": "#6e6e6e", "baseline": "middle", "dy": -8},
    "encoding": {"x": {"field": "mid", "type": "quantitative", "axis": null, "scale": {"domain": [0.4383, 4.5], "nice": false, "zero": false}}, "y": {"field": "h", "type": "quantitative"}, "text": {"field": "lab"}}}
  ]}
 ],
 "resolve": {"scale": {"x": "independent"}}},
{"width": 245, "height": 175.3, "title": {"text": "(F)", "dx": -97, "dy": 0},
 "layer": [
  {"layer": [
   {"data": {"name": "pts"}, "transform": [{"filter": "datum.p == 'F'"}], "mark": {"type": "point", "filled": true, "opacity": 1, "strokeWidth": 0},
    "encoding": {
     "x": {"field": "g", "type": "nominal", "title": null, "scale": {"domain": ["Baseline","Peak","Gr 1-3","Gr 4-5"], "paddingInner": 0, "paddingOuter": 0.0485, "align": 1}},
     "xOffset": {"field": "s", "type": "quantitative", "scale": {"domain": [-3.5, 3.5]}},
     "y": {"field": "v", "type": "quantitative", "scale": {"domain": [0, 1060496], "nice": false}, "axis": {"values": [0,200000,400000,600000,800000,1000000], "tickCount": 10, "format": "d", "domain": false, "labelOverlap": false, "title": "sICAM-1 concentration(pg/mL)", "titlePadding": 4}},
     "color": {"field": "g", "type": "nominal", "legend": null, "scale": {"domain": ["Baseline","Peak","Nadir","Gr 1-3","Gr 4-5"], "range": ["#0c990c","#b5853c","#b5853c","#0000f5","#b01212"]}},
     "shape": {"field": "g", "type": "nominal", "legend": null, "scale": {"domain": ["Baseline","Peak","Nadir","Gr 1-3","Gr 4-5"], "range": ["circle","square","square","triangle-up","triangle-down"]}},
     "size": {"field": "g", "type": "nominal", "legend": null, "scale": {"domain": ["Baseline","Peak","Nadir","Gr 1-3","Gr 4-5"], "range": [42,44,44,58,58]}}
    }},
   {"data": {"name": "stats"}, "transform": [{"filter": "datum.p == 'F'"}], "mark": {"type": "tick", "color": "black", "thickness": 2.5, "size": 34},
    "encoding": {"x": {"field": "g", "type": "nominal", "title": null, "scale": {"domain": ["Baseline","Peak","Gr 1-3","Gr 4-5"]}}, "y": {"field": "m", "type": "quantitative"}}},
   {"data": {"name": "stats"}, "transform": [{"filter": "datum.p == 'F'"}], "mark": {"type": "rule", "color": "black", "strokeWidth": 2.5},
    "encoding": {"x": {"field": "g", "type": "nominal", "title": null, "scale": {"domain": ["Baseline","Peak","Gr 1-3","Gr 4-5"]}}, "y": {"field": "lo", "type": "quantitative"}, "y2": {"field": "hi"}}},
   {"data": {"name": "stats"}, "transform": [{"filter": "datum.p == 'F'"}, {"fold": ["lo","hi"], "as": ["k","cv"]}], "mark": {"type": "tick", "color": "black", "thickness": 2.5, "size": 18},
    "encoding": {"x": {"field": "g", "type": "nominal", "title": null, "scale": {"domain": ["Baseline","Peak","Gr 1-3","Gr 4-5"]}}, "y": {"field": "cv", "type": "quantitative"}}}
  ]},
  {"layer": [
   {"data": {"name": "stats"}, "transform": [{"filter": "datum.p == 'F' && datum.g == 'Baseline'"}], "mark": {"type": "rule", "color": "black", "strokeWidth": 2},
    "encoding": {"x": {"datum": 0.403, "type": "quantitative", "axis": null, "scale": {"domain": [0.403, 4.5], "nice": false, "zero": false}}, "y": {"datum": 0, "type": "quantitative"}, "y2": {"datum": 1000000}}},
   {"data": {"name": "br"}, "transform": [{"filter": "datum.p == 'F'"}], "mark": {"type": "rule", "color": "#7a7a7a", "strokeWidth": 1.2},
    "encoding": {"x": {"field": "a", "type": "quantitative", "axis": null, "scale": {"domain": [0.403, 4.5], "nice": false, "zero": false}}, "x2": {"field": "b"}, "y": {"field": "h", "type": "quantitative"}}},
   {"data": {"name": "br"}, "transform": [{"filter": "datum.p == 'F'"}, {"fold": ["a","b"], "as": ["k","px"]}], "mark": {"type": "tick", "orient": "vertical", "color": "#7a7a7a", "thickness": 1.2, "size": 5, "yOffset": 2.5},
    "encoding": {"x": {"field": "px", "type": "quantitative", "axis": null, "scale": {"domain": [0.403, 4.5], "nice": false, "zero": false}}, "y": {"field": "h", "type": "quantitative"}}},
   {"data": {"name": "br"}, "transform": [{"filter": "datum.p == 'F' && datum.lab != 'ns'"}, {"fold": ["a","b"], "as": ["k","px"]}, {"aggregate": [{"op": "mean", "field": "px", "as": "mid"}], "groupby": ["id","h","lab"]}], "mark": {"type": "text", "font": "DejaVu Sans", "fontSize": 12, "color": "#6e6e6e", "baseline": "middle", "dy": -8},
    "encoding": {"x": {"field": "mid", "type": "quantitative", "axis": null, "scale": {"domain": [0.403, 4.5], "nice": false, "zero": false}}, "y": {"field": "h", "type": "quantitative"}, "text": {"field": "lab"}}}
  ]}
 ],
 "resolve": {"scale": {"x": "independent"}}},
{"width": 10, "height": 80, "data": {"values": []}, "mark": {"type": "point", "opacity": 0}, "encoding": {}},
{"width": 10, "height": 80, "data": {"values": []}, "mark": {"type": "point", "opacity": 0}, "encoding": {}},
{"width": 248, "height": 186.7, "title": {"text": "(G)", "dx": -85.6, "dy": 6},
 "layer": [
  {"layer": [
   {"data": {"name": "pts"}, "transform": [{"filter": "datum.p == 'G'"}], "mark": {"type": "point", "filled": true, "opacity": 1, "strokeWidth": 0},
    "encoding": {
     "x": {"field": "g", "type": "nominal", "title": null, "scale": {"domain": ["Baseline","Peak","Gr 1-3","Gr 4-5"], "paddingInner": 0, "paddingOuter": 0.0395, "align": 1}},
     "xOffset": {"field": "s", "type": "quantitative", "scale": {"domain": [-3.5, 3.5]}},
     "y": {"field": "v", "type": "quantitative", "scale": {"domain": [0, 800000], "nice": false}, "axis": {"values": [0,200000,400000,600000,800000], "tickCount": 10, "labelOverlap": false, "labelExpr": "datum.value == 0 ? '0' : format(datum.value / 100000, '.1f') + '×10⁵'", "title": "sVCAM-1 concentration(pg/ml)", "titlePadding": -4}},
     "color": {"field": "g", "type": "nominal", "legend": null, "scale": {"domain": ["Baseline","Peak","Nadir","Gr 1-3","Gr 4-5"], "range": ["#0c990c","#b5853c","#b5853c","#0000f5","#b01212"]}},
     "shape": {"field": "g", "type": "nominal", "legend": null, "scale": {"domain": ["Baseline","Peak","Nadir","Gr 1-3","Gr 4-5"], "range": ["circle","square","square","triangle-up","triangle-down"]}},
     "size": {"field": "g", "type": "nominal", "legend": null, "scale": {"domain": ["Baseline","Peak","Nadir","Gr 1-3","Gr 4-5"], "range": [42,44,44,58,58]}}
    }},
   {"data": {"name": "stats"}, "transform": [{"filter": "datum.p == 'G'"}], "mark": {"type": "tick", "color": "black", "thickness": 2.5, "size": 46},
    "encoding": {"x": {"field": "g", "type": "nominal", "title": null, "scale": {"domain": ["Baseline","Peak","Gr 1-3","Gr 4-5"]}}, "y": {"field": "m", "type": "quantitative"}}},
   {"data": {"name": "stats"}, "transform": [{"filter": "datum.p == 'G'"}], "mark": {"type": "rule", "color": "black", "strokeWidth": 2.5},
    "encoding": {"x": {"field": "g", "type": "nominal", "title": null, "scale": {"domain": ["Baseline","Peak","Gr 1-3","Gr 4-5"]}}, "y": {"field": "lo", "type": "quantitative"}, "y2": {"field": "hi"}}},
   {"data": {"name": "stats"}, "transform": [{"filter": "datum.p == 'G'"}, {"fold": ["lo","hi"], "as": ["k","cv"]}], "mark": {"type": "tick", "color": "black", "thickness": 2.5, "size": 20},
    "encoding": {"x": {"field": "g", "type": "nominal", "title": null, "scale": {"domain": ["Baseline","Peak","Gr 1-3","Gr 4-5"]}}, "y": {"field": "cv", "type": "quantitative"}}}
  ]},
  {"layer": [
   {"data": {"name": "br"}, "transform": [{"filter": "datum.p == 'G'"}], "mark": {"type": "rule", "color": "#7a7a7a", "strokeWidth": 1.2},
    "encoding": {"x": {"field": "a", "type": "quantitative", "axis": null, "scale": {"domain": [0.421, 4.5], "nice": false, "zero": false}}, "x2": {"field": "b"}, "y": {"field": "h", "type": "quantitative"}}},
   {"data": {"name": "br"}, "transform": [{"filter": "datum.p == 'G'"}, {"fold": ["a","b"], "as": ["k","px"]}], "mark": {"type": "tick", "orient": "vertical", "color": "#7a7a7a", "thickness": 1.2, "size": 5, "yOffset": 2.5},
    "encoding": {"x": {"field": "px", "type": "quantitative", "axis": null, "scale": {"domain": [0.421, 4.5], "nice": false, "zero": false}}, "y": {"field": "h", "type": "quantitative"}}},
   {"data": {"name": "br"}, "transform": [{"filter": "datum.p == 'G' && datum.lab != 'ns'"}, {"fold": ["a","b"], "as": ["k","px"]}, {"aggregate": [{"op": "mean", "field": "px", "as": "mid"}], "groupby": ["id","h","lab"]}], "mark": {"type": "text", "font": "DejaVu Sans", "fontSize": 12, "color": "#6e6e6e", "baseline": "middle", "dy": -8},
    "encoding": {"x": {"field": "mid", "type": "quantitative", "axis": null, "scale": {"domain": [0.421, 4.5], "nice": false, "zero": false}}, "y": {"field": "h", "type": "quantitative"}, "text": {"field": "lab"}}},
   {"data": {"name": "br"}, "transform": [{"filter": "datum.p == 'G' && datum.lab == 'ns'"}, {"fold": ["a","b"], "as": ["k","px"]}, {"aggregate": [{"op": "mean", "field": "px", "as": "mid"}], "groupby": ["id","h","lab"]}], "mark": {"type": "text", "font": "Liberation Serif", "fontStyle": "italic", "fontSize": 14, "color": "#555555", "baseline": "middle", "dy": -8},
    "encoding": {"x": {"field": "mid", "type": "quantitative", "axis": null, "scale": {"domain": [0.421, 4.5], "nice": false, "zero": false}}, "y": {"field": "h", "type": "quantitative"}, "text": {"field": "lab"}}}
  ]}
 ],
 "resolve": {"scale": {"x": "independent"}}}
]
}
